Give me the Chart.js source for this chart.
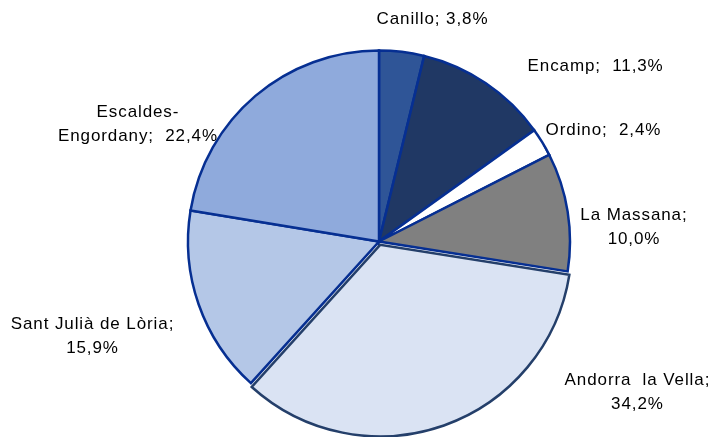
<!DOCTYPE html>
<html>
<head>
<meta charset="utf-8">
<script src="https://cdn.jsdelivr.net/npm/chart.js@4"></script>
<style>
  html, body { margin: 0; padding: 0; background: #ffffff; }
  #wrap { width: 718px; height: 437px; }
</style>
</head>
<body>
<div id="wrap"><canvas id="pieChart" width="718" height="437"></canvas></div>
<script>
// Data (clockwise from 12 o'clock)
const parishes = ['Canillo', 'Encamp', 'Ordino', 'La Massana', 'Andorra la Vella', 'Sant Julià de Lòria', 'Escaldes-Engordany'];
const shares = [3.8, 11.3, 2.4, 10.0, 34.2, 15.9, 22.4];
const labelLines = [
    ['Canillo; 3,8%'],
    ['Encamp;  11,3%'],
    ['Ordino;  2,4%'],
    ['La Massana;', '10,0%'],
    ['Andorra  la Vella;', '34,2%'],
    ['Sant Julià de Lòria;', '15,9%'],
    ['Escaldes-', 'Engordany;  22,4%']
];

// Styling
const fillColors = ['#2f5597', '#203864', '#ffffff', '#808080', '#dae3f3', '#b4c7e7', '#8faadc'];
const edgeColors = ['#062f92', '#062f92', '#062f92', '#062f92', '#243f6a', '#062f92', '#062f92'];
const explode = [0, 0, 0, 0, 14, 0, 0];
// label centres, relative to pie centre, in units of the outer radius
const labelSpots = [
    [0.28, -1.162], [1.134, -0.916], [1.175, -0.581], [1.335, -0.073],
    [1.353, 0.791], [-1.5, 0.497], [-1.262, -0.613]
];

const outsideLabels = {
    id: 'outsideLabels',
    afterDatasetsDraw(chart) {
        const ctx = chart.ctx;
        const arc = chart.getDatasetMeta(0).data[0];
        const cx = arc.x, cy = arc.y, r = arc.outerRadius;
        ctx.save();
        ctx.font = '17px "Liberation Sans", Arial, sans-serif';
        ctx.letterSpacing = '0.9px';
        ctx.fillStyle = '#000000';
        ctx.textAlign = 'center';
        ctx.textBaseline = 'middle';
        labelLines.forEach((lines, i) => {
            const x = cx + labelSpots[i][0] * r;
            const y = cy + labelSpots[i][1] * r;
            const lh = 24;
            const y0 = y - (lines.length - 1) * lh / 2;
            lines.forEach((t, k) => ctx.fillText(t, x, y0 + k * lh));
        });
        ctx.restore();
    }
};

new Chart(document.getElementById('pieChart'), {
    type: 'pie',
    data: {
        labels: parishes,
        datasets: [{
            data: shares,
            backgroundColor: fillColors,
            borderColor: edgeColors,
            borderWidth: 2.5,
            borderJoinStyle: 'miter',
            offset: explode
        }]
    },
    options: {
        responsive: false,
        animation: false,
        radius: 191,
        layout: { padding: { left: 170, right: 130, top: 47, bottom: 1 } },
        plugins: { legend: { display: false }, tooltip: { enabled: false } }
    },
    plugins: [outsideLabels]
});
</script>
</body>
</html>
